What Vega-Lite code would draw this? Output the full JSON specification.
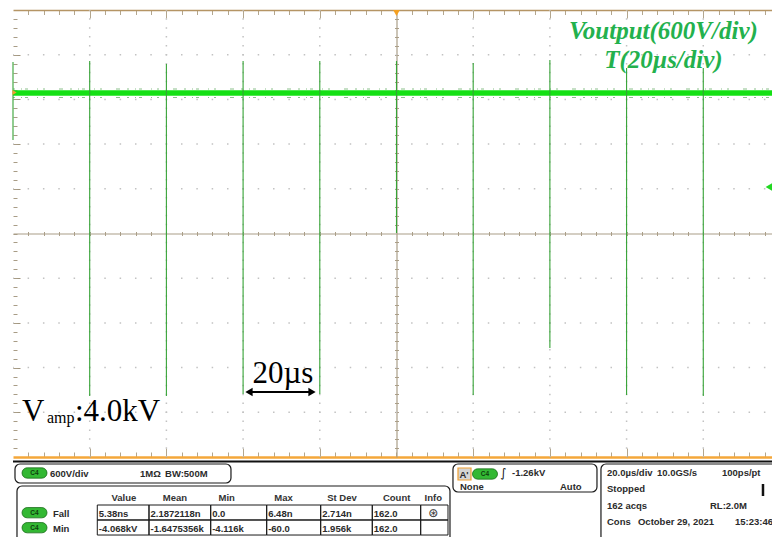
{
  "$schema": "https://vega.github.io/schema/vega-lite/v6.json",
  "width": 759,
  "height": 447,
  "autosize": {"type": "none"},
  "padding": {"left": 13, "top": 10, "right": 0, "bottom": 80},
  "background": "#ffffff",
  "config": {
    "view": {"stroke": null},
    "axis": {"labels": false, "title": null, "grid": false, "domain": false, "ticks": true, "tickWidth": 1, "tickColor": "#b3a68e", "domainColor": "#aa9e88", "domainWidth": 1.2}
  },
  "resolve": {"axis": {"x": "independent", "y": "independent"}},
  "datasets": {
    "gridT": [{"t": -80}, {"t": -60}, {"t": -40}, {"t": -20}, {"t": 20}, {"t": 40}, {"t": 60}, {"t": 80}],
    "gridV": [{"v": -2400}, {"v": -1800}, {"v": -1200}, {"v": -600}, {"v": 600}, {"v": 1200}, {"v": 1800}, {"v": 2400}],
    "spikes": [
      {"t": -100, "vtop": 2302, "vbot": 1255},
      {"t": -80, "vtop": 2315, "vbot": -2181},
      {"t": -60, "vtop": 2275, "vbot": -2181},
      {"t": -40, "vtop": 2315, "vbot": -2154},
      {"t": -20, "vtop": 2315, "vbot": -2154},
      {"t": 0, "vtop": 2315, "vbot": 7},
      {"t": 20, "vtop": 2289, "vbot": -2168},
      {"t": 40, "vtop": 2329, "vbot": -1537},
      {"t": 60, "vtop": 2221, "vbot": -2168},
      {"t": 80, "vtop": 2221, "vbot": -2181}
    ],
    "fringe": [{"edge": "upper", "v": 1939.6}, {"edge": "lower", "v": 1825.5}],
    "titles": [
      {"text": "Voutput(600V/div)", "t": 69.6, "v": 2611},
      {"text": "T(20µs/div)", "t": 69.6, "v": 2217}
    ],
    "scalebar": [{"text": "20µs", "t": -29.6, "v": -2007}],
    "arrow": [{"t0": -38.72, "t1": -21.77, "v": -2127.5}],
    "heads": [{"dir": "left", "t": -38.46, "v": -2127.5}, {"dir": "right", "t": -22.03, "v": -2127.5}],
    "vamp": [{"text": "V", "t": -97.65, "v": -2517}, {"text": ":4.0kV", "t": -83.83, "v": -2517}],
    "amp": [{"text": "amp", "t": -91.13, "v": -2540}],
    "boxes": [
      {"t0": -99.48, "t1": -43.16, "v0": -3094, "v1": -3349},
      {"t0": -98.96, "t1": 13.95, "v0": -3389.3, "v1": -4181.2},
      {"t0": 14.73, "t1": 52.28, "v0": -3094, "v1": -3469.8},
      {"t0": 53.32, "t1": 102.61, "v0": -3094, "v1": -4181.2}
    ],
    "cols": [
      {"col": "Value", "t0": -78.02, "t1": -64.54, "tc": -71.1},
      {"col": "Mean", "t0": -64.54, "t1": -48.45, "tc": -57.76},
      {"col": "Min", "t0": -48.45, "t1": -33.85, "tc": -44.28},
      {"col": "Max", "t0": -33.85, "t1": -19.77, "tc": -29.47},
      {"col": "St Dev", "t0": -19.77, "t1": -6.31, "tc": -14.21},
      {"col": "Count", "t0": -6.31, "t1": 6.31, "tc": 0.05},
      {"col": "Info", "t0": 6.31, "t1": 13.43, "tc": 9.6}
    ],
    "rows": [
      {"row": "Fall", "v0": -3644.3, "v1": -3845.6, "vb": -3798.7},
      {"row": "Min", "v0": -3845.6, "v1": -4047.2, "vb": -4000.0}
    ],
    "meas": [
      {"row": "Fall", "col": "Value", "text": "5.38ns"},
      {"row": "Fall", "col": "Mean", "text": "2.1872118n"},
      {"row": "Fall", "col": "Min", "text": "0.0"},
      {"row": "Fall", "col": "Max", "text": "6.48n"},
      {"row": "Fall", "col": "St Dev", "text": "2.714n"},
      {"row": "Fall", "col": "Count", "text": "162.0"},
      {"row": "Fall", "col": "Info", "text": "⊛"},
      {"row": "Min", "col": "Value", "text": "-4.068kV"},
      {"row": "Min", "col": "Mean", "text": "-1.6475356k"},
      {"row": "Min", "col": "Min", "text": "-4.116k"},
      {"row": "Min", "col": "Max", "text": "-60.0"},
      {"row": "Min", "col": "St Dev", "text": "1.956k"},
      {"row": "Min", "col": "Count", "text": "162.0"},
      {"row": "Min", "col": "Info", "text": ""}
    ],
    "badges": [
      {"label": "C4", "t": -94.39, "v": -3214.8},
      {"label": "C4", "t": -94.39, "v": -3747.7},
      {"label": "C4", "t": -94.39, "v": -3949.0},
      {"label": "C4", "t": 23.08, "v": -3228.2}
    ],
    "ptext": [
      {"text": "600V/div", "t": -90.35, "v": -3268.5},
      {"text": "1MΩ", "t": -66.88, "v": -3268.5},
      {"text": "BW:500M", "t": -60.36, "v": -3268.5},
      {"text": "A'", "t": 16.43, "v": -3281.9},
      {"text": "-1.26kV", "t": 30.12, "v": -3255.0},
      {"text": "None", "t": 16.56, "v": -3442.9},
      {"text": "Auto", "t": 42.63, "v": -3442.9},
      {"text": "20.0µs/div", "t": 54.89, "v": -3251.0},
      {"text": "10.0GS/s", "t": 67.93, "v": -3251.0},
      {"text": "100ps/pt", "t": 84.88, "v": -3251.0},
      {"text": "Stopped", "t": 54.89, "v": -3469.8},
      {"text": "162 acqs", "t": 54.89, "v": -3698.0},
      {"text": "RL:2.0M", "t": 81.75, "v": -3698.0},
      {"text": "Cons", "t": 54.89, "v": -3912.7},
      {"text": "October 29, 2021", "t": 62.97, "v": -3912.7},
      {"text": "15:23:46", "t": 88.27, "v": -3912.7}
    ]
  },
  "layer": [
    {
      "data": {"name": "gridT"},
      "mark": {"type": "rule", "stroke": "#c2c2c2", "strokeWidth": 1.5, "strokeDash": [1.5, 7.44], "strokeDashOffset": 0.75},
      "encoding": {
        "x": {"field": "t", "type": "quantitative", "scale": {"domain": [-100, 97.92], "nice": false, "zero": false}, "axis": null},
        "y": {"datum": 3000, "type": "quantitative", "scale": {"domain": [-3000, 3000], "nice": false, "zero": false}, "axis": null},
        "y2": {"datum": -3000}
      }
    },
    {
      "data": {"name": "gridV"},
      "mark": {"type": "rule", "stroke": "#c2c2c2", "strokeWidth": 1.5, "strokeDash": [1.5, 13.84], "strokeDashOffset": 0.75},
      "encoding": {
        "y": {"field": "v", "type": "quantitative", "axis": null},
        "x": {"datum": -100, "type": "quantitative", "axis": null},
        "x2": {"datum": 97.92}
      }
    },
    {
      "data": {"name": "fringe"},
      "mark": {"type": "rule", "stroke": "#2e8f2e", "strokeWidth": 1.2, "opacity": 0.55, "strokeDash": [2, 6, 1, 3, 3, 9, 1, 5, 2, 14, 4, 7]},
      "encoding": {
        "y": {"field": "v", "type": "quantitative", "axis": null},
        "x": {"datum": -100, "type": "quantitative", "axis": null},
        "x2": {"datum": 97.92}
      }
    },
    {
      "data": {"values": [{"v": 1885.9}]},
      "mark": {"type": "rule", "stroke": "#14e014", "strokeWidth": 5.5},
      "encoding": {
        "y": {"field": "v", "type": "quantitative", "axis": {"orient": "left", "tickSize": -7, "tickColor": "#a0957e", "values": [-2400, -1800, -1200, -600, 600, 1200, 1800, 2400]}},
        "x": {"datum": -100, "type": "quantitative", "axis": null},
        "x2": {"datum": 97.92}
      }
    },
    {
      "data": {"name": "spikes"},
      "mark": {"type": "rule", "stroke": "#36a336", "strokeWidth": 1.1},
      "encoding": {
        "x": {"field": "t", "type": "quantitative", "axis": {"orient": "bottom", "domain": true, "domainColor": "#f4a73a", "domainWidth": 2.5, "tickSize": -5, "tickColor": "#b3a68e", "values": [-96,-92,-88,-84,-80,-76,-72,-68,-64,-60,-56,-52,-48,-44,-40,-36,-32,-28,-24,-20,-16,-12,-8,-4,0,4,8,12,16,20,24,28,32,36,40,44,48,52,56,60,64,68,72,76,80,84,88,92,96]}},
        "y": {"field": "vtop", "type": "quantitative", "axis": {"orient": "left", "tickSize": -4, "tickColor": "#a89c86", "values": [-2880,-2760,-2640,-2520,-2400,-2280,-2160,-2040,-1920,-1800,-1680,-1560,-1440,-1320,-1200,-1080,-960,-840,-720,-600,-480,-360,-240,-120,0,120,240,360,480,600,720,840,960,1080,1200,1320,1440,1560,1680,1800,1920,2040,2160,2280,2400,2520,2640,2760,2880]}},
        "y2": {"field": "vbot"}
      }
    },
    {
      "data": {"name": "titles"},
      "mark": {"type": "text", "font": "Liberation Serif", "fontStyle": "italic", "fontWeight": "bold", "fontSize": 25, "fill": "#23b14d", "align": "center", "baseline": "alphabetic"},
      "encoding": {
        "x": {"field": "t", "type": "quantitative", "axis": {"orient": "top", "domain": true, "domainColor": "#b59565", "domainWidth": 1.5, "tickSize": -4.5, "tickColor": "#b3a68e", "values": [-96,-92,-88,-84,-76,-72,-68,-64,-56,-52,-48,-44,-36,-32,-28,-24,-16,-12,-8,-4,4,8,12,16,24,28,32,36,44,48,52,56,64,68,72,76,84,88,92,96]}},
        "y": {"field": "v", "type": "quantitative", "axis": {"orient": "left", "offset": -383.5, "domain": true, "domainColor": "#aa9e88", "domainWidth": 1.2, "tickSize": 2, "tickColor": "#aa9e88", "values": [-2880,-2760,-2640,-2520,-2400,-2280,-2160,-2040,-1920,-1800,-1680,-1560,-1440,-1320,-1200,-1080,-960,-840,-720,-600,-480,-360,-240,-120,120,240,360,480,600,720,840,960,1080,1200,1320,1440,1560,1680,1800,1920,2040,2160,2280,2400,2520,2640,2760,2880]}},
        "text": {"field": "text"}
      }
    },
    {
      "data": {"name": "scalebar"},
      "mark": {"type": "text", "font": "Liberation Serif", "fontSize": 31, "fill": "#000000", "align": "center", "baseline": "alphabetic"},
      "encoding": {
        "x": {"field": "t", "type": "quantitative", "axis": {"orient": "bottom", "offset": -223.5, "domain": true, "domainColor": "#aa9e88", "domainWidth": 1.2, "tickSize": 2, "tickColor": "#aa9e88", "values": [-96,-92,-88,-84,-80,-76,-72,-68,-64,-60,-56,-52,-48,-44,-40,-36,-32,-28,-24,-20,-16,-12,-8,-4,4,8,12,16,20,24,28,32,36,40,44,48,52,56,60,64,68,72,76,80,84,88,92,96]}},
        "y": {"field": "v", "type": "quantitative", "axis": {"orient": "left", "offset": -383.5, "tickSize": -2, "tickColor": "#aa9e88", "values": [-2880,-2760,-2640,-2520,-2400,-2280,-2160,-2040,-1920,-1800,-1680,-1560,-1440,-1320,-1200,-1080,-960,-840,-720,-600,-480,-360,-240,-120,120,240,360,480,600,720,840,960,1080,1200,1320,1440,1560,1680,1800,1920,2040,2160,2280,2400,2520,2640,2760,2880]}},
        "text": {"field": "text"}
      }
    },
    {
      "data": {"name": "arrow"},
      "mark": {"type": "rule", "stroke": "#000000", "strokeWidth": 2},
      "encoding": {
        "x": {"field": "t0", "type": "quantitative", "axis": {"orient": "bottom", "offset": -223.5, "tickSize": -2, "tickColor": "#aa9e88", "values": [-96,-92,-88,-84,-80,-76,-72,-68,-64,-60,-56,-52,-48,-44,-40,-36,-32,-28,-24,-20,-16,-12,-8,-4,4,8,12,16,20,24,28,32,36,40,44,48,52,56,60,64,68,72,76,80,84,88,92,96]}},
        "x2": {"field": "t1"},
        "y": {"field": "v", "type": "quantitative", "axis": null}
      }
    },
    {
      "data": {"name": "heads"},
      "mark": {"type": "point", "filled": true, "size": 70, "color": "#000000", "opacity": 1},
      "encoding": {
        "x": {"field": "t", "type": "quantitative", "axis": {"orient": "bottom", "tickSize": -9, "tickColor": "#b3a68e", "values": [-80, -60, -40, -20, 20, 40, 60, 80]}},
        "y": {"field": "v", "type": "quantitative", "axis": null},
        "shape": {"field": "dir", "type": "nominal", "scale": {"domain": ["left", "right"], "range": ["triangle-left", "triangle-right"]}, "legend": null}
      }
    },
    {
      "data": {"name": "vamp"},
      "mark": {"type": "text", "font": "Liberation Serif", "fontSize": 31, "fill": "#000000", "align": "left", "baseline": "alphabetic"},
      "encoding": {
        "x": {"field": "t", "type": "quantitative", "axis": {"orient": "top", "tickSize": -8, "tickColor": "#b3a68e", "values": [-80, -60, -40, -20, 20, 40, 60, 80]}},
        "y": {"field": "v", "type": "quantitative", "axis": null},
        "text": {"field": "text"}
      }
    },
    {
      "data": {"name": "amp"},
      "mark": {"type": "text", "font": "Liberation Serif", "fontSize": 16, "fill": "#000000", "align": "left", "baseline": "alphabetic"},
      "encoding": {
        "x": {"field": "t", "type": "quantitative", "axis": null},
        "y": {"field": "v", "type": "quantitative", "axis": null},
        "text": {"field": "text"}
      }
    },
    {
      "data": {"values": [{"t": 0, "v": 2960}]},
      "mark": {"type": "point", "filled": true, "shape": "triangle-down", "size": 45, "color": "#f5a020", "opacity": 1},
      "encoding": {
        "x": {"field": "t", "type": "quantitative", "axis": null},
        "y": {"field": "v", "type": "quantitative", "axis": null}
      }
    },
    {
      "data": {"values": [{"t": 97.13, "v": 624}]},
      "mark": {"type": "point", "filled": true, "shape": "triangle-left", "size": 60, "color": "#22d822", "opacity": 1},
      "encoding": {
        "x": {"field": "t", "type": "quantitative", "axis": null},
        "y": {"field": "v", "type": "quantitative", "axis": null}
      }
    },
    {
      "data": {"values": [{"t": -99.6, "v": 1893}]},
      "mark": {"type": "point", "filled": true, "shape": "triangle-right", "size": 25, "color": "#f0a030", "opacity": 1},
      "encoding": {
        "x": {"field": "t", "type": "quantitative", "axis": null},
        "y": {"field": "v", "type": "quantitative", "axis": null}
      }
    },
    {
      "data": {"values": [{"v": -3060}]},
      "mark": {"type": "rule", "stroke": "#111111", "strokeWidth": 2},
      "encoding": {
        "y": {"field": "v", "type": "quantitative", "axis": null},
        "x": {"datum": -100, "type": "quantitative", "axis": null},
        "x2": {"datum": 97.92}
      }
    },
    {
      "data": {"name": "boxes"},
      "mark": {"type": "rect", "fill": "#ffffff", "stroke": "#1a1a1a", "strokeWidth": 1.2, "cornerRadius": 5},
      "encoding": {
        "x": {"field": "t0", "type": "quantitative", "axis": null},
        "x2": {"field": "t1"},
        "y": {"field": "v0", "type": "quantitative", "axis": null},
        "y2": {"field": "v1"}
      }
    },
    {
      "data": {"values": [{"t0": 16.04, "t1": 19.43, "v0": -3147.7, "v1": -3308.7}]},
      "mark": {"type": "rect", "fill": "#d4d4d4", "stroke": "#f0a030", "strokeWidth": 1.2},
      "encoding": {
        "x": {"field": "t0", "type": "quantitative", "axis": null},
        "x2": {"field": "t1"},
        "y": {"field": "v0", "type": "quantitative", "axis": null},
        "y2": {"field": "v1"}
      }
    },
    {
      "data": {"name": "meas"},
      "transform": [
        {"lookup": "col", "from": {"data": {"name": "cols"}, "key": "col", "fields": ["t0", "t1", "tc"]}},
        {"lookup": "row", "from": {"data": {"name": "rows"}, "key": "row", "fields": ["v0", "v1", "vb"]}}
      ],
      "mark": {"type": "rect", "fill": null, "fillOpacity": 0, "stroke": "#1a1a1a", "strokeWidth": 1},
      "encoding": {
        "x": {"field": "t0", "type": "quantitative", "axis": null},
        "x2": {"field": "t1"},
        "y": {"field": "v0", "type": "quantitative", "axis": null},
        "y2": {"field": "v1"}
      }
    },
    {
      "data": {"name": "badges"},
      "mark": {"type": "point", "filled": true, "shape": "M-0.6,-0.42L0.6,-0.42A0.42,0.42 0 0 1 0.6,0.42L-0.6,0.42A0.42,0.42 0 0 1 -0.6,-0.42Z", "size": 600, "fill": "#33b833", "stroke": "#1d6e1d", "strokeWidth": 0.8, "opacity": 1},
      "encoding": {
        "x": {"field": "t", "type": "quantitative", "axis": null},
        "y": {"field": "v", "type": "quantitative", "axis": null}
      }
    },
    {
      "data": {"name": "badges"},
      "mark": {"type": "text", "font": "Liberation Sans", "fontWeight": "bold", "fontSize": 6.5, "fill": "#0e3e0e", "align": "center", "baseline": "middle"},
      "encoding": {
        "x": {"field": "t", "type": "quantitative", "axis": null},
        "y": {"field": "v", "type": "quantitative", "axis": null},
        "text": {"field": "label"}
      }
    },
    {
      "data": {"name": "cols"},
      "mark": {"type": "text", "font": "Liberation Sans", "fontWeight": "bold", "fontSize": 9.5, "fill": "#333333", "align": "center", "baseline": "alphabetic"},
      "encoding": {
        "x": {"field": "tc", "type": "quantitative", "axis": null},
        "y": {"datum": -3586.6, "type": "quantitative", "axis": null},
        "text": {"field": "col"}
      }
    },
    {
      "data": {"name": "rows"},
      "mark": {"type": "text", "font": "Liberation Sans", "fontWeight": "bold", "fontSize": 9.5, "fill": "#2b2b2b", "align": "left", "baseline": "alphabetic"},
      "encoding": {
        "x": {"datum": -89.57, "type": "quantitative", "axis": null},
        "y": {"field": "vb", "type": "quantitative", "axis": null},
        "text": {"field": "row"}
      }
    },
    {
      "data": {"name": "meas"},
      "transform": [
        {"filter": "datum.col != 'Info'"},
        {"lookup": "col", "from": {"data": {"name": "cols"}, "key": "col", "fields": ["t0", "t1", "tc"]}},
        {"lookup": "row", "from": {"data": {"name": "rows"}, "key": "row", "fields": ["v0", "v1", "vb"]}}
      ],
      "mark": {"type": "text", "font": "Liberation Sans", "fontWeight": "bold", "fontSize": 9.5, "fill": "#2b2b2b", "align": "left", "baseline": "alphabetic", "dx": 1.5},
      "encoding": {
        "x": {"field": "t0", "type": "quantitative", "axis": null},
        "y": {"field": "vb", "type": "quantitative", "axis": null},
        "text": {"field": "text"}
      }
    },
    {
      "data": {"name": "meas"},
      "transform": [
        {"filter": "datum.col == 'Info'"},
        {"lookup": "col", "from": {"data": {"name": "cols"}, "key": "col", "fields": ["t0", "t1", "tc"]}},
        {"lookup": "row", "from": {"data": {"name": "rows"}, "key": "row", "fields": ["v0", "v1", "vb"]}}
      ],
      "mark": {"type": "text", "font": "DejaVu Sans", "fontSize": 12, "fill": "#2b2b2b", "align": "center", "baseline": "alphabetic"},
      "encoding": {
        "x": {"field": "tc", "type": "quantitative", "axis": null},
        "y": {"field": "vb", "type": "quantitative", "axis": null},
        "text": {"field": "text"}
      }
    },
    {
      "data": {"name": "ptext"},
      "mark": {"type": "text", "font": "Liberation Sans", "fontWeight": "bold", "fontSize": 9.5, "fill": "#2b2b2b", "align": "left", "baseline": "alphabetic"},
      "encoding": {
        "x": {"field": "t", "type": "quantitative", "axis": null},
        "y": {"field": "v", "type": "quantitative", "axis": null},
        "text": {"field": "text"}
      }
    },
    {
      "data": {"values": [{"text": "∫", "t": 27.0, "v": -3262}]},
      "mark": {"type": "text", "font": "DejaVu Sans", "fontSize": 12, "fill": "#111111", "align": "left", "baseline": "alphabetic"},
      "encoding": {
        "x": {"field": "t", "type": "quantitative", "axis": null},
        "y": {"field": "v", "type": "quantitative", "axis": null},
        "text": {"field": "text"}
      }
    },
    {
      "data": {"values": [{"t": 95.57, "v0": -3362.4, "v1": -3523.5}]},
      "mark": {"type": "rule", "stroke": "#111111", "strokeWidth": 2.5},
      "encoding": {
        "x": {"field": "t", "type": "quantitative", "axis": null},
        "y": {"field": "v0", "type": "quantitative", "axis": null},
        "y2": {"field": "v1"}
      }
    }
  ]
}
